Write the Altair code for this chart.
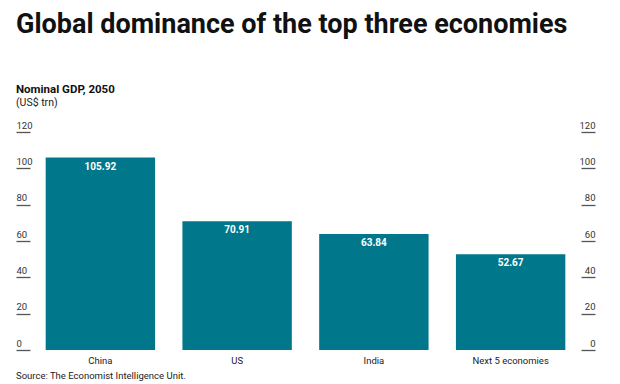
import altair as alt
import pandas as pd

categories = ["China", "US", "India", "Next 5 economies"]
gdp_2050 = [105.92, 70.91, 63.84, 52.67]
y_ticks = [0, 20, 40, 60, 80, 100, 120]

title_text = "Global dominance of the top three economies"
subtitle_text = "Nominal GDP, 2050"
unit_text = "(US$ trn)"
source_text = "Source: The Economist Intelligence Unit."

FONT = "Roboto"
BAR = "#01778B"

df = pd.DataFrame({"category": categories, "gdp": gdp_2050,
                   "label": [f"{v:.2f}" for v in gdp_2050]})

x_enc = alt.X("category:N", sort=categories, title=None,
              scale=alt.Scale(paddingInner=0.2, paddingOuter=0.1),
              axis=alt.Axis(labelAngle=0, ticks=False, domain=False,
                            labelPadding=5, labelFontSize=9.5, labelFont=FONT,
                            labelColor="#222"))

axis_common = dict(values=y_ticks, grid=False, domain=False, ticks=True,
                   tickSize=14, offset=2, tickColor="#555", tickWidth=1.3,
                   labelFont=FONT, labelFontSize=9.5, labelColor="#333",
                   labelBaseline="bottom", labelOffset=-2, labelPadding=0)

bars = alt.Chart(df).mark_bar(color=BAR).encode(
    x=x_enc,
    y=alt.Y("gdp:Q", title=None, scale=alt.Scale(domain=[0, 120], nice=False),
            axis=alt.Axis(orient="left", labelAlign="left", **axis_common)),
)

values = alt.Chart(df).mark_text(color="white", font=FONT, fontSize=10,
                                 fontWeight="bold", baseline="top", dy=4).encode(
    x=x_enc,
    y=alt.Y("gdp:Q", title=None, scale=alt.Scale(domain=[0, 120], nice=False),
            axis=alt.Axis(orient="right", labelAlign="right", **axis_common)),
    text="label:N",
)

def note(txt, x, y, size, weight="normal", color="#222", font=FONT):
    return alt.Chart(pd.DataFrame({"t": [txt]})).mark_text(
        align="left", baseline="alphabetic", font=font, fontSize=size,
        fontWeight=weight, color=color).encode(
        x=alt.value(x), y=alt.value(y), text="t:N")

chart = alt.layer(
    bars, values,
    note(title_text, -16, -99, 27, "bold", "#111"),
    note(subtitle_text, -16, -39, 11.5, "bold", "#111"),
    note(unit_text, -16, -26, 10.5, "normal", "#222"),
    note(source_text, -16, 247, 9.5, "normal", "#222"),
).resolve_axis(y="independent").properties(
    width=547, height=218,
    autosize=alt.AutoSizeParams(type="none"),
    padding={"left": 24, "top": 124, "right": 33, "bottom": 40},
).configure_view(stroke=None)

chart.save("out.html", embed_options={"renderer": "svg", "actions": False})
